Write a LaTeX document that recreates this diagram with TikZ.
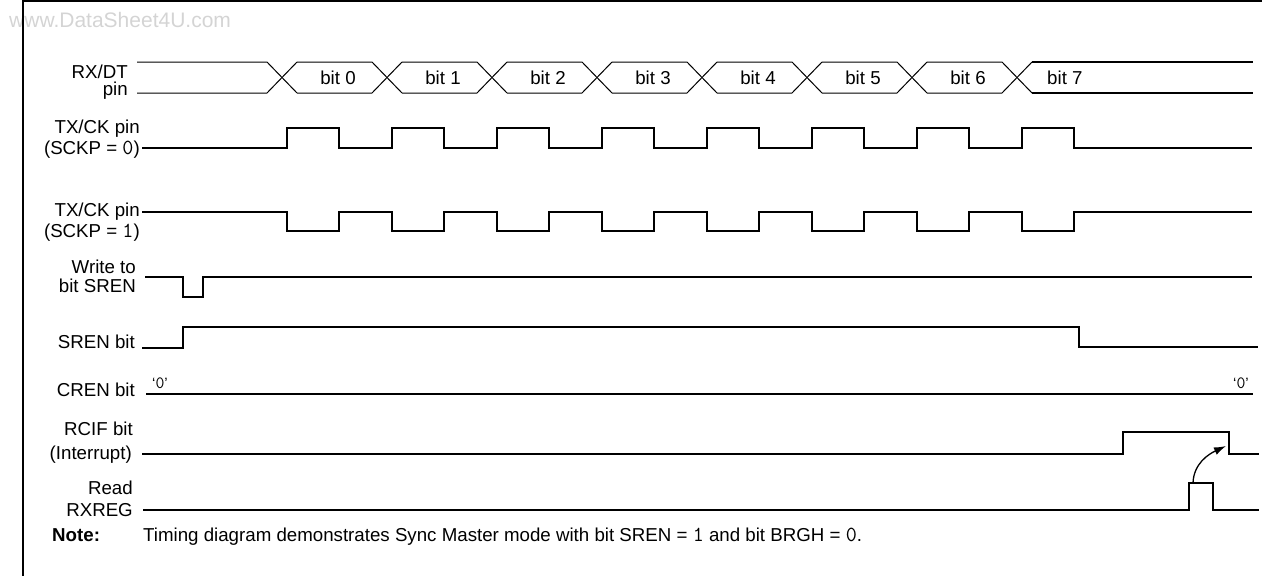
\documentclass[tikz,border=0pt]{standalone}
\usepackage{fontspec}
\setmainfont{Liberation Sans}
\setmonofont[Scale=1.15]{Latin Modern Mono}
\usetikzlibrary{arrows.meta}
\definecolor{wmgray}{RGB}{212,212,212}
\newcommand{\bitval}[1]{{\ttfamily #1}}

\begin{document}
\begin{tikzpicture}[x=1pt, y=-1pt,
  sig/.style={line width=2pt},
  bus/.style={line width=1pt},
  lbl/.style={anchor=base east, inner sep=0pt, font=\fontsize{18.7}{20}\selectfont},
  bitlbl/.style={anchor=base, inner sep=0pt, font=\fontsize{18.7}{20}\selectfont},
  lvl/.style={anchor=base, inner sep=0pt, font=\fontsize{15}{17}\selectfont},
  arr/.style={-{Latex[length=12pt, width=8pt]}, line width=1.3pt}
]
  \useasboundingbox (0,0) rectangle (1262,576);
  \node[anchor=base west, inner sep=0pt, text=wmgray, font=\fontsize{21}{24}\selectfont] (wm) at (9,27) {www.DataSheet4U.com};
  \draw[line width=2pt] (1262,1) -- (23,1) -- (23,576);

  % signal names
  \node[lbl] (rxdt) at (128,78) {RX/DT};
  \node[lbl] (rxpin) at (128,95) {pin};
  \node[lbl] (ckzeroa) at (140,133) {TX/CK pin};
  \node[lbl] (ckzerob) at (140,154) {(SCKP = \bitval{0})};
  \node[lbl] (ckonea) at (140,216) {TX/CK pin};
  \node[lbl] (ckoneb) at (140,237) {(SCKP = \bitval{1})};
  \node[lbl] (wra) at (136,273) {Write to};
  \node[lbl] (wrb) at (136,292) {bit SREN};
  \node[lbl] (sren) at (135,348) {SREN bit};
  \node[lbl] (cren) at (135,396) {CREN bit};
  \node[lbl] (rcifa) at (133,435) {RCIF bit};
  \node[lbl] (rcifb) at (132,459) {(Interrupt)};
  \node[lbl] (rda) at (133,494) {Read};
  \node[lbl] (rdb) at (133,516) {RXREG};

  % RX/DT data bus
  \draw[bus] (137,62) -- (267,62) -- (297,93);
  \draw[bus] (137,93) -- (267,93) -- (297,62);
  \foreach \c/\b in {282/0,387/1,492/2,597/3,702/4,807/5,912/6}{
    \draw[bus] (\c+15,62) -- (\c+90,62) -- (\c+120,93);
    \draw[bus] (\c+15,93) -- (\c+90,93) -- (\c+120,62);
    \node[bitlbl] (bit\b) at (\c+56,84) {bit \b};
  }
  \draw[sig] (1032,62) -- (1253,62);
  \draw[sig] (1032,93) -- (1253,93);
  \node[bitlbl, anchor=base west] (bit7) at (1047,84) {bit 7};

  % clocks
  \draw[sig] (142,148) \foreach \x in {287,392,...,1022}{
    -- (\x,148) -- (\x,128) -- (\x+52,128) -- (\x+52,148)} -- (1252,148);
  \draw[sig] (142,212) \foreach \x in {287,392,...,1022}{
    -- (\x,212) -- (\x,231) -- (\x+52,231) -- (\x+52,212)} -- (1252,212);

  % control bits
  \draw[sig] (145,277) -- (183,277) -- (183,297) -- (203,297) -- (203,277) -- (1252,277);
  \draw[sig] (142,348) -- (183,348) -- (183,327) -- (1079,327) -- (1079,347) -- (1258,347);
  \draw[sig] (146,394) -- (1253,394);
  \node[lvl] (crenlo) at (160,388) {`\bitval{0}'};
  \node[lvl] (crenhi) at (1241,388) {`\bitval{0}'};
  \draw[sig] (142,454) -- (1123,454) -- (1123,432) -- (1229,432) -- (1229,454) -- (1259,454);
  \draw[sig] (143,510) -- (1189,510) -- (1189,483) -- (1213,483) -- (1213,510) -- (1259,510);

  \coordinate (rdtop) at (1193,483);
  \coordinate (rcfall) at (1226,446);
  \draw[arr] (rdtop) to[out=88, in=205] (rcfall);

  \node[anchor=base west, inner sep=0pt, font=\fontsize{18.7}{20}\selectfont\bfseries] (note) at (52,541) {Note:};
  \node[anchor=base west, inner sep=0pt, font=\fontsize{18.7}{20}\selectfont] (notetxt) at (143,541)
    {Timing diagram demonstrates Sync Master mode with bit SREN = \bitval{1} and bit BRGH = \bitval{0}.};
\end{tikzpicture}
\end{document}
